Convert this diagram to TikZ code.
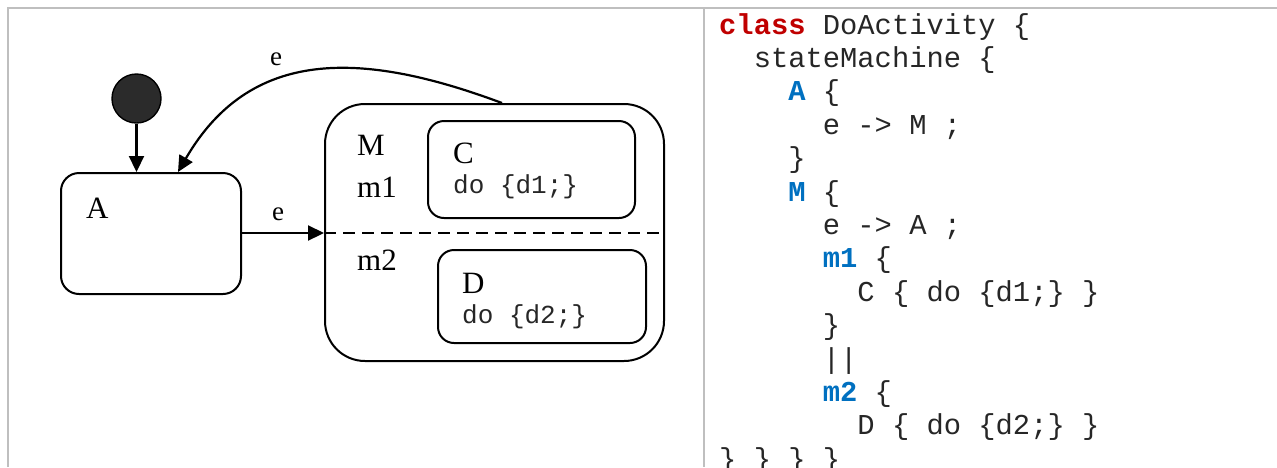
\documentclass[tikz,border=0pt]{standalone}
\usepackage{fontspec}
\setmainfont{Liberation Serif}
\setmonofont{Liberation Mono}
\usetikzlibrary{arrows.meta}
\definecolor{framegray}{HTML}{BFBFBF}
\definecolor{kwred}{HTML}{C00000}
\definecolor{kwblue}{HTML}{0070C0}
\definecolor{initfill}{HTML}{2B2B2B}
\definecolor{codeink}{HTML}{262626}
\begin{document}
\begin{tikzpicture}[x=1pt,y=-1pt,
  statebox/.style={draw, line width=2pt, rounded corners=#1, inner sep=0pt, anchor=north west},
  conn/.style={line width=2.2pt, -{Triangle[length=16pt,width=15pt]}},
  lbl/.style={font=\fontsize{31}{31}\selectfont, inner sep=0pt, anchor=base west},
  evlbl/.style={font=\fontsize{27}{27}\selectfont, inner sep=0pt, anchor=base},
  dotext/.style={font=\ttfamily\fontsize{26}{26}\selectfont, text=codeink, inner sep=0pt, anchor=base west},
  code/.style={font=\ttfamily\fontsize{28.8}{28.8}\selectfont, text=codeink, inner sep=0pt, anchor=base west},
  framel/.style={draw=framegray, line width=2pt}
]
\useasboundingbox (0,0) rectangle (1277,467);
% frame
\draw[framel] (8,467) -- (8,8) -- (1277,8);
\draw[framel] (704,8) -- (704,467);

% states
\node[statebox=18pt, minimum width=180pt, minimum height=121pt] (A) at (60,172) {};
\node[statebox=40pt, minimum width=339pt, minimum height=257pt] (M) at (324,103) {};
\node[statebox=16pt, minimum width=207pt, minimum height=97pt] (C) at (427,120) {};
\node[statebox=16pt, minimum width=208pt, minimum height=93pt] (D) at (437,249) {};
\node[circle, draw, fill=initfill, line width=1.4pt, minimum size=49pt, inner sep=0pt] (init) at (136.5,98.5) {};

% region separator
\coordinate (sepL) at (M.west |- 0,233);
\coordinate (sepR) at (M.east |- 0,233);
\draw[line width=2pt, dash pattern=on 12pt off 7pt] (sepL) -- (sepR);

% labels
\node[lbl] (labA) at (86,218) {A};
\node[lbl] (labM) at (357,155) {M};
\node[lbl] (labm1) at (357,197) {m1};
\node[lbl] (labm2) at (357,270) {m2};
\node[lbl] (labC) at (453,163) {C};
\node[lbl] (labD) at (462,293) {D};
\node[dotext] (doC) at (453,193) {do \{d1;\}};
\node[dotext] (doD) at (462,323) {do \{d2;\}};

% transitions
\draw[conn] (init) -- (init |- A.north);
\draw[conn] (A.east |- sepL) -- (sepL);
\node[evlbl] (e1) at (278,220) {e};
\coordinate (mtop) at (502,103);
\coordinate (atop) at ([xshift=118pt]A.north west);
\draw[conn] (mtop) .. controls (360,50) and (250,48) .. (atop);
\node[evlbl] (e2) at (276,65) {e};

% code
\node[code] (l1) at (719,34) {\textcolor{kwred}{\textbf{class}} DoActivity \{};
\node[code] (l2) at (719+17.28*2,67.4) {stateMachine \{};
\node[code] (l3) at (719+17.28*4,100.8) {\textcolor{kwblue}{\textbf{A}} \{};
\node[code] (l4) at (719+17.28*6,134.2) {e -> M ;};
\node[code] (l5) at (719+17.28*4,167.6) {\}};
\node[code] (l6) at (719+17.28*4,201.0) {\textcolor{kwblue}{\textbf{M}} \{};
\node[code] (l7) at (719+17.28*6,234.4) {e -> A ;};
\node[code] (l8) at (719+17.28*6,267.8) {\textcolor{kwblue}{\textbf{m1}} \{};
\node[code] (l9) at (719+17.28*8,301.2) {C \{ do \{d1;\} \}};
\node[code] (l10) at (719+17.28*6,334.6) {\}};
\node[code] (l11) at (719+17.28*6,368.0) {||};
\node[code] (l12) at (719+17.28*6,401.4) {\textcolor{kwblue}{\textbf{m2}} \{};
\node[code] (l13) at (719+17.28*8,434.8) {D \{ do \{d2;\} \}};
\node[code] (l14) at (719,468.2) {\} \} \} \}};
\end{tikzpicture}
\end{document}
